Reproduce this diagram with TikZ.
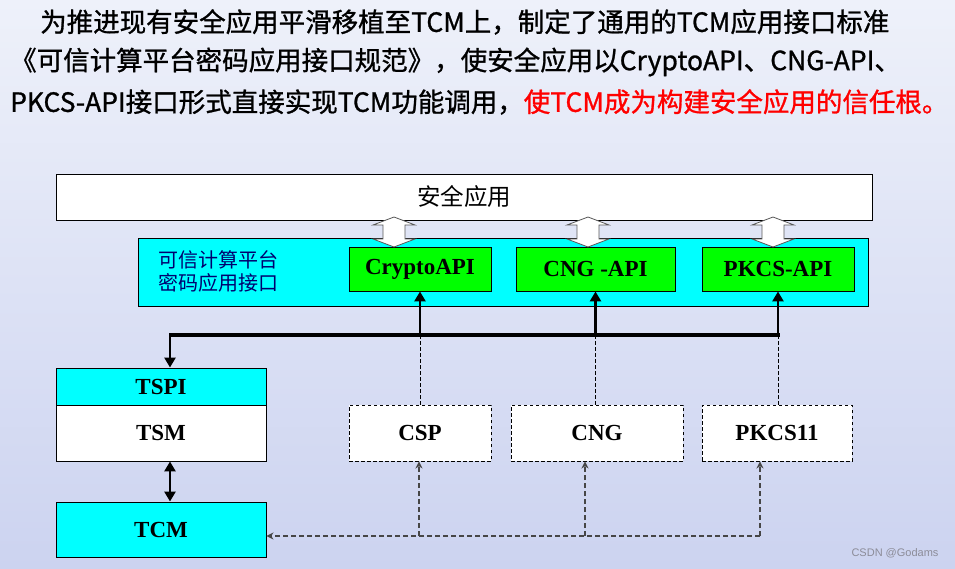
\documentclass[tikz,border=0pt]{standalone}
\usepackage{fontspec}
\usetikzlibrary{arrows.meta}
\newfontfamily\cjk{Noto Sans CJK SC}
\newfontfamily\cjkhead[FakeBold=1]{Noto Sans CJK SC}
\newfontfamily\tnr{Liberation Serif}
\newfontfamily\wmfont{Liberation Sans}
\definecolor{bgtop}{RGB}{238,241,250}
\definecolor{bgbot}{RGB}{204,211,240}
\definecolor{boxcyan}{RGB}{0,255,255}
\definecolor{boxgreen}{RGB}{0,255,0}
\definecolor{ifnavy}{RGB}{0,0,110}
\definecolor{keyred}{RGB}{255,0,0}
\definecolor{linkgray}{RGB}{70,70,70}
\definecolor{wmgray}{RGB}{140,140,152}
\tikzset{
  layer/.style={draw=black, line width=0.9pt, inner sep=0pt},
  labelfont/.style={font=\tnr\bfseries\fontsize{23}{26}\selectfont},
  apibox/.style={layer, labelfont, fill=boxgreen, minimum height=44pt},
  stackbox/.style={layer, labelfont, minimum width=210pt},
  implbox/.style={layer, labelfont, fill=white, dash pattern=on 3.5pt off 2.5pt, minimum height=56pt},
  headline/.style={anchor=west, inner sep=0pt, font=\cjkhead\fontsize{26.5}{29}\selectfont},
  busline/.style={line width=4pt},
  uplink/.style={line width=2.8pt, -{Triangle[width=11pt,length=10pt]}},
  thinlink/.style={line width=0.9pt, dash pattern=on 3.5pt off 2.5pt},
  retlink/.style={linkgray, line width=1.6pt, dash pattern=on 5pt off 3pt, -{Stealth[width=7pt,length=7pt]}},
  hollow/.style={draw=black!65, fill=white, line width=0.8pt}
}
\begin{document}
\begin{tikzpicture}[x=1pt, y=-1pt]
    % Background
    \shade[top color=bgtop, bottom color=bgbot] (0,0) rectangle (955,569);
    \useasboundingbox (0,0) rectangle (955,569);

    % Heading text
    \node[headline] (line1) at (40,22) {为推进现有安全应用平滑移植至TCM上，制定了通用的TCM应用接口标准};
    \node[headline] (line2) at (10,62) {《可信计算平台密码应用接口规范》，使安全应用以CryptoAPI、CNG-API、};
    \node[headline] (line3) at (10,102) {PKCS-API接口形式直接实现TCM功能调用，\textcolor{keyred}{使TCM成为构建安全应用的信任根。}};

    % Application and interface layers
    \node[layer, fill=white, minimum width=816pt, minimum height=46pt, font=\cjk\fontsize{23.5}{25}\selectfont] (app) at (464,197) {安全应用};
    \node[layer, fill=boxcyan, minimum width=730pt, minimum height=68pt] (iface) at (503,272) {};
    \node[anchor=west, inner sep=0pt, align=left, text=ifnavy, font=\cjk\fontsize{20}{23}\selectfont] (ifname) at (158,271) {可信计算平台\\密码应用接口};
    \node[apibox, minimum width=142pt] (crypto) at (420,269) {CryptoAPI};
    \node[apibox, minimum width=159pt] (cngapi) at (595.5,269) {CNG -API};
    \node[apibox, minimum width=152pt] (pkcsapi) at (778,269) {PKCS-API};

    % Hollow double arrows
    \foreach \cx in {394,588,773}
        \draw[hollow] (\cx,217) -- ({\cx+21},225) -- ({\cx+11},225) -- ({\cx+11},239) -- ({\cx+21},239)
            -- (\cx,247) -- ({\cx-21},239) -- ({\cx-11},239) -- ({\cx-11},225) -- ({\cx-21},225) -- cycle;

    % TSS stack
    \node[stackbox, fill=boxcyan, minimum height=37pt] (tspi) at (161,386.5) {TSPI};
    \node[stackbox, fill=white, minimum height=56pt] (tsm) at (161,433) {TSM};
    \node[stackbox, fill=boxcyan, minimum height=55pt] (tcm) at (161,529.5) {TCM};

    % Provider modules
    \node[implbox, minimum width=142pt] (csp) at (420,433) {CSP};
    \node[implbox, minimum width=172pt] (cng) at (597,433) {CNG};
    \node[implbox, minimum width=150pt] (pkcs) at (777,433) {PKCS11};

    % Bus and calls
    \coordinate (busL) at (170,335);
    \draw[busline] ([xshift=-1pt]busL) -- ([xshift=1.5pt]pkcsapi.south |- busL);
    \foreach \n in {crypto,cngapi,pkcsapi}
        \draw[uplink] (\n.south |- busL) -- (\n.south);
    \draw[uplink] (busL) -- (busL |- tspi.north);
    \draw[line width=2.8pt, {Triangle[width=11pt,length=10pt]}-{Triangle[width=11pt,length=10pt]}]
        ([xshift=9pt]tsm.south) -- ([xshift=9pt]tcm.north);
    \foreach \n/\m in {crypto/csp,cngapi/cng,pkcsapi/pkcs}
        \draw[thinlink] (\n.south |- busL) -- (\n.south |- \m.north);

    % Return path to TCM
    \coordinate (ret) at ([xshift=-17pt]pkcs.south |- 0,536);
    \draw[retlink] (ret) -- (tcm.east |- ret);
    \foreach \n/\dx in {csp/-1,cng/-12,pkcs/-17}
        \draw[retlink] ([xshift=\dx pt]\n.south |- ret) -- ([xshift=\dx pt]\n.south);

    \node[text=wmgray, font=\wmfont\fontsize{11}{12}\selectfont] (mark) at (895,553) {CSDN @Godams};
\end{tikzpicture}
\end{document}
